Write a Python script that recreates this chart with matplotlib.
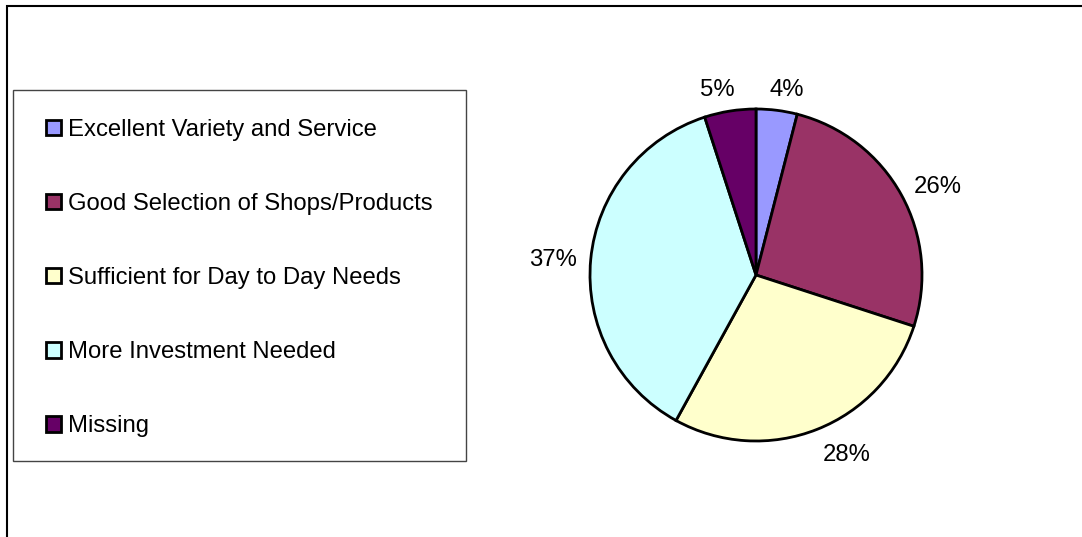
import numpy as np
import matplotlib.pyplot as plt
import matplotlib.transforms as mtransforms
from matplotlib.patches import Rectangle, Patch

plt.rcParams['font.family'] = ['Liberation Sans', 'DejaVu Sans']

categories = ['Excellent Variety and Service', 'Good Selection of Shops/Products',
              'Sufficient for Day to Day Needs', 'More Investment Needed', 'Missing']
shares = [4, 26, 28, 37, 5]
colours = ['#9999FF', '#993366', '#FFFFCC', '#CCFFFF', '#660066']

W, H = 1082, 537
fs = 17.2
fig = plt.figure(figsize=(W / 100, H / 100), dpi=100)

# outer chart border (runs off right/bottom edges)
fig.patches.append(Rectangle((7 / W, -0.1), 1.2, 1 - 6 / H + 0.1, transform=fig.transFigure,
                             fill=False, edgecolor='black', linewidth=1.5))

# legend frame
fig.patches.append(Rectangle((13 / W, 1 - 461 / H), (466 - 13) / W, (461 - 90) / H,
                             transform=fig.transFigure, fill=False,
                             edgecolor='#444444', linewidth=1))

# pie: centre ~(756,275), radius ~166 px
cx, cy, r = 756, 275, 166
ax = fig.add_axes([(cx - r) / W, 1 - (cy + r) / H, 2 * r / W, 2 * r / H])
wedges, _ = ax.pie(shares, colors=colours, startangle=90, counterclock=False,
                   wedgeprops=dict(edgecolor='black', linewidth=2))
ax.set_aspect('equal')
ax.set_xlim(-1, 1)
ax.set_ylim(-1, 1)

# Excel-style outside labels: near edge of the text box sits just outside the rim
renderer = fig.canvas.get_renderer()
off = 14 / r
for w, v in zip(wedges, shares):
    a = np.deg2rad((w.theta1 + w.theta2) / 2)
    c, s = np.cos(a), np.sin(a)
    t = ax.text((1 + off) * c, (1 + off) * s, f'{v}%', fontsize=fs, ha='center', va='center')
    bb = t.get_window_extent(renderer)
    fx = np.sign(c) * min(1, abs(c) * 4) * 0.5
    fy = s * 0.45
    dx = fx * bb.width
    dy = fy * bb.height - 3
    t.set_transform(ax.transData + mtransforms.Affine2D().translate(dx, dy))

# legend entries
handles = [Patch(facecolor=c, edgecolor='black', linewidth=2) for c in colours]
leg = fig.legend(handles, categories, loc='upper left',
                 bbox_to_anchor=(46 / W, 1 - 119 / H), fontsize=fs, frameon=False,
                 borderpad=0, labelspacing=2.18,
                 handlelength=0.62, handleheight=0.62, handletextpad=0.3, borderaxespad=0)

fig.savefig('out.png', dpi=100)
